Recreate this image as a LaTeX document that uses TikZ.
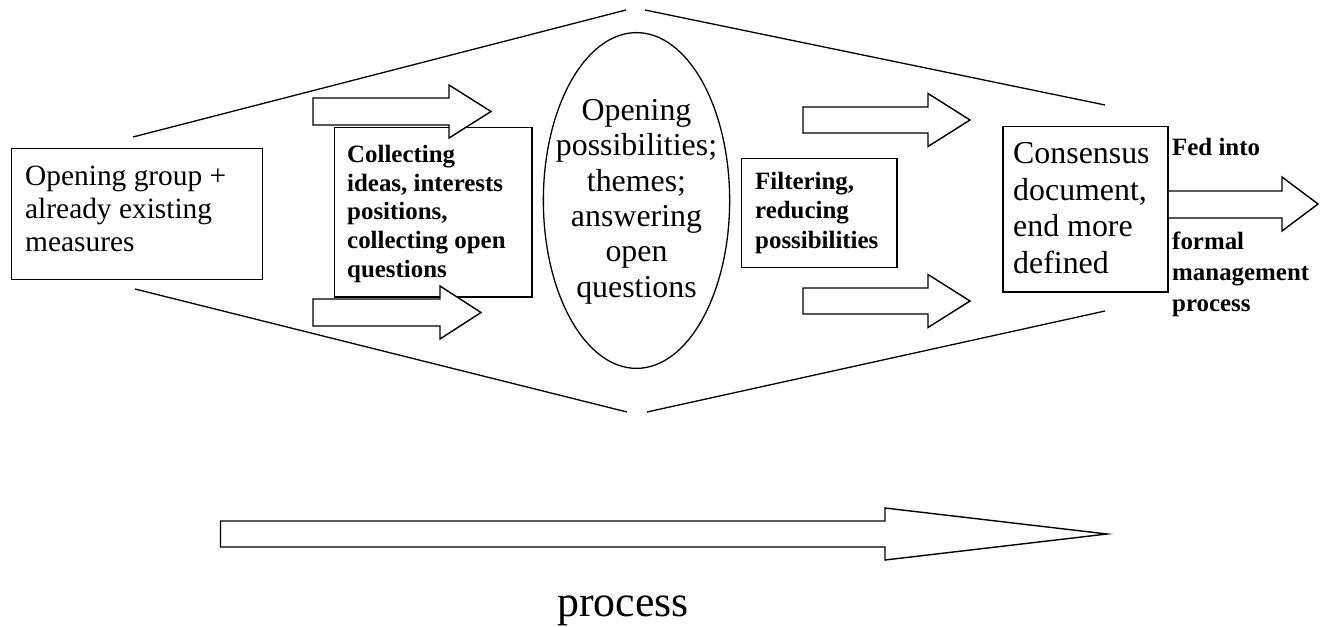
\documentclass[tikz,border=0pt]{standalone}
\usepackage{fontspec}
\setmainfont{Liberation Serif}
\usetikzlibrary{shapes.geometric}
\tikzset{
  line/.style={draw=black, line width=1.3bp},
  boxnode/.style={draw=black, line width=1.5bp, fill=white, inner sep=0, anchor=north west},
  blk/.style={draw=black, line width=1.4bp, fill=white, line join=miter},
  txt/.style={inner sep=0, align=left, anchor=west},
}
% block arrow: shaft start x, head base x, tip x, centre y, half shaft, half head
\newcommand\blkarrow[6]{%
  \path[blk] (#1,#4-#5) -- (#2,#4-#5) -- (#2,#4-#6) -- (#3,#4) -- (#2,#4+#6) -- (#2,#4+#5) -- (#1,#4+#5) -- cycle;}
\begin{document}
\begin{tikzpicture}[x=1bp,y=-1bp]
\useasboundingbox (0,0) rectangle (1321,627);

% funnel lines
\coordinate (tl1) at (133,137); \coordinate (tl2) at (626,10);
\coordinate (tr1) at (645,10);  \coordinate (tr2) at (1105,105);
\coordinate (bl1) at (135,289); \coordinate (bl2) at (627,412);
\coordinate (br1) at (647,412); \coordinate (br2) at (1105,311);
\draw[line] (tl1) -- (tl2);
\draw[line] (tr1) -- (tr2);
\draw[line] (bl1) -- (bl2);
\draw[line] (br1) -- (br2);

% left box
\node[boxnode, minimum width=252, minimum height=131] (start) at (10.5,148) {};
\node[txt, font=\fontsize{29.5}{33}\selectfont] (starttxt) at (25,209)
  {Opening group +\\already existing\\measures};

% collecting box
\node[boxnode, minimum width=198, minimum height=170, line width=1.3bp] (collect) at (334,127) {};
\node[txt, font=\fontsize{25}{29}\selectfont\bfseries] (collecttxt) at (347,214)
  {Collecting\\ideas, interests\\positions,\\collecting open\\questions};
\blkarrow{313}{449}{491}{111.5}{13.5}{26.5}
\blkarrow{313}{440}{481}{312.5}{13.5}{26.5}

% ellipse
\node[draw=black, line width=1.3bp, ellipse, minimum width=187, minimum height=337, inner sep=0] (ell) at (636.5,200.5) {};
\node[inner sep=0, align=center, font=\fontsize{32}{35.6}\selectfont] (elltxt) at (636.5,201.6)
  {Opening\\possibilities;\\themes;\\answering\\open\\questions};

% filtering
\node[boxnode, minimum width=156, minimum height=109, line width=1.3bp] (filter) at (741,158) {};
\node[txt, font=\fontsize{25}{30}\selectfont\bfseries] (filtertxt) at (755,213)
  {Filtering,\\reducing\\possibilities};
\blkarrow{803}{928}{970}{120}{13}{26.5}
\blkarrow{803}{928}{970}{301}{13}{26.5}

% consensus
\node[boxnode, minimum width=166, minimum height=166] (cons) at (1002,126) {};
\node[txt, font=\fontsize{32}{36.7}\selectfont] (constxt) at (1013,208)
  {Consensus\\document,\\end more\\defined};
\coordinate (outs) at (cons.east|-0,191);
\path[blk] (outs) -- (1282,191) -- (1282,177) -- (1318,204) -- (1282,231) -- (1282,218) -- (outs|-0,218);
\node[inner sep=0, anchor=base west, font=\fontsize{25}{30}\selectfont\bfseries] (fed) at (1172,156) {Fed into};
\node[txt, font=\fontsize{25}{31}\selectfont\bfseries] (formal) at (1172,274)
  {formal\\management\\process};

% process arrow
\blkarrow{220.5}{885}{1107}{534}{13}{26}
\node[inner sep=0, anchor=base, font=\fontsize{44}{50}\selectfont] (proc) at (623,616) {process};
\end{tikzpicture}
\end{document}
